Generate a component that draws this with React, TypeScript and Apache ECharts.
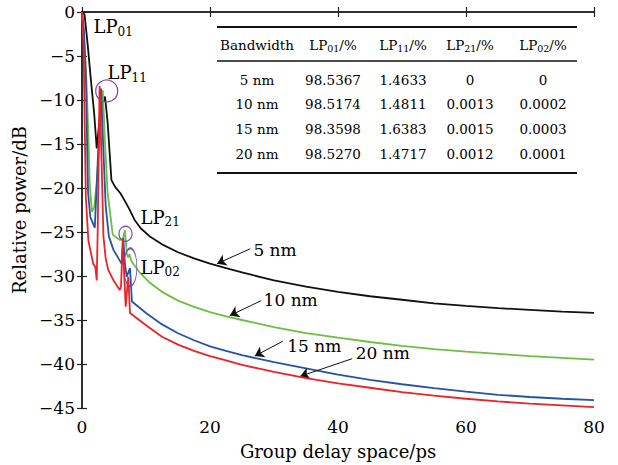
import React, { useEffect, useRef } from 'react';
import * as echarts from 'echarts';

// ---- Data ----
const delay5 = [0, 0.4, 0.9, 1.4, 1.9, 2.3, 2.7, 3.2, 3.4, 3.6, 4.0, 4.6, 5.2, 6.0, 6.8, 7.4, 8.2, 9.2, 10.6, 12.5, 15, 17.5, 20, 22.5, 25, 30, 35, 40, 45, 50, 55, 60, 65, 70, 75, 80];
const power5 = [0, -0.3, -3.8, -7.8, -11.5, -15.5, -12.5, -9.8, -10.2, -9.6, -12.5, -19.1, -19.9, -20.6, -21.6, -22.4, -23.6, -24.6, -25.5, -26.4, -27.3, -28.0, -28.6, -29.1, -29.6, -30.5, -31.2, -31.8, -32.3, -32.7, -33.1, -33.4, -33.65, -33.85, -34.05, -34.2];

const delay10 = [0, 0.3, 0.7, 1.0, 1.2, 1.55, 1.9, 2.3, 2.8, 3.25, 3.6, 4.0, 4.8, 5.9, 6.4, 6.7, 7.0, 7.2, 7.4, 7.7, 9, 10.5, 12.5, 15, 17.5, 20, 22.5, 25, 30, 35, 40, 45, 50, 55, 60, 65, 70, 75, 80];
const power10 = [0, -3, -8, -14, -19.5, -22.7, -22.2, -19.5, -14, -8.9, -15, -20.5, -25.3, -25.9, -25.8, -24.8, -27.5, -27.9, -27.5, -28.3, -29.6, -30.7, -31.8, -32.8, -33.5, -34.1, -34.6, -35.0, -35.8, -36.5, -37.0, -37.5, -37.95, -38.3, -38.6, -38.85, -39.1, -39.3, -39.5];

const delay15 = [0, 0.3, 0.6, 0.8, 0.95, 1.3, 2.0, 2.4, 2.97, 3.3, 3.7, 4.2, 4.9, 5.7, 6.2, 6.45, 6.7, 6.98, 7.5, 7.8, 10, 12.5, 15, 17.5, 20, 22.5, 25, 27.5, 30, 35, 40, 45, 50, 55, 60, 65, 70, 75, 80];
const power15 = [0, -2, -7, -15, -20.5, -23.3, -24.5, -18, -8.7, -15, -22, -25.5, -27.0, -28.0, -28.6, -25.7, -28.5, -30.1, -29.1, -32.9, -34.2, -35.5, -36.5, -37.3, -38.0, -38.5, -39.0, -39.4, -39.8, -40.5, -41.2, -41.8, -42.3, -42.75, -43.15, -43.5, -43.75, -43.95, -44.1];

const delay20 = [0, 0.25, 0.45, 0.6, 1.0, 1.75, 2.1, 2.3, 2.45, 2.75, 3.1, 3.35, 3.7, 4.1, 5.0, 5.9, 6.1, 6.36, 6.6, 6.83, 7.05, 7.23, 7.5, 10, 12.5, 15, 17.5, 20, 22.5, 25, 27.5, 30, 35, 40, 45, 50, 55, 60, 65, 70, 75, 80];
const power20 = [0, -4, -14, -21, -26.0, -28.6, -29.0, -30.5, -25, -8.4, -18, -25.5, -28, -29.3, -30.6, -31.6, -31.2, -25.9, -30, -33.5, -31.5, -30.1, -34.2, -35.6, -36.9, -37.8, -38.5, -39.1, -39.6, -40.1, -40.5, -40.9, -41.6, -42.2, -42.7, -43.2, -43.6, -43.95, -44.25, -44.5, -44.7, -44.9];

const xTicks = { min: 0, max: 80, interval: 20 };
const yTicks = { min: -45, max: 0, interval: 5 };

// mode markers (circles) and their labels, in data coordinates
const modeNames = ['01', '11', '21', '02'];
const modeCircleAt = [[0.7, 0.1], [3.86, -8.98], [6.8, -25.2], [7.55, -29.0]];
const modeCircleSize = [[11, 11], [22, 22], [13, 15], [13, 38]];
const modeLabelAt = [[1.72, -1.7], [3.9, -6.9], [9.06, -23.3], [9.06, -29.0]];

// bandwidth arrows
const bandLabels = ['5 nm', '10 nm', '15 nm', '20 nm'];
const arrowTail = [[26.3, -26.9], [28.0, -32.8], [31.4, -37.4], [42.2, -39.4]];
const arrowTip = [[21.1, -28.6], [23.1, -34.5], [27.0, -39.1], [34.1, -41.4]];
const bandLabelAt = [[26.7, -27.0], [28.3, -32.7], [32.0, -38.0], [42.7, -38.8]];

// table
const tableBandwidth = ['5 nm', '10 nm', '15 nm', '20 nm'];
const tableLP01 = ['98.5367', '98.5174', '98.3598', '98.5270'];
const tableLP11 = ['1.4633', '1.4811', '1.6383', '1.4717'];
const tableLP21 = ['0', '0.0013', '0.0015', '0.0012'];
const tableLP02 = ['0', '0.0002', '0.0003', '0.0001'];

const FONT = 'DejaVu Serif';
const PURPLE = '#7a4fae';

const zip = (xs: number[], ys: number[]) => xs.map((x, i) => [x, ys[i]]);

export default function App() {
  const ref = useRef<HTMLDivElement>(null);

  useEffect(() => {
    if (!ref.current) return;
    const chart = echarts.init(ref.current, undefined, { renderer: 'svg' });

    const richLP = (size: number, sub: number) => ({
      m: { fontFamily: FONT, fontSize: size, lineHeight: size + 4, color: '#000' },
      s: { fontFamily: FONT, fontSize: sub, lineHeight: sub + 1, color: '#000', verticalAlign: 'bottom' as const },
    });

    const markPointData: any[] = [];
    modeNames.forEach((n, i) => {
      markPointData.push({
        coord: modeCircleAt[i],
        symbol: 'circle',
        symbolSize: modeCircleSize[i],
        itemStyle: { color: 'rgba(0,0,0,0)', borderColor: PURPLE, borderWidth: 1.3 },
        label: { show: false },
      });
      markPointData.push({
        coord: modeLabelAt[i],
        symbol: 'circle',
        symbolSize: 1,
        itemStyle: { color: 'rgba(0,0,0,0)' },
        label: {
          show: true,
          position: 'right',
          distance: 0,
          formatter: () => `{m|LP}{s|${n}}`,
          rich: richLP(18, 12),
        },
      });
    });
    bandLabels.forEach((t, i) => {
      markPointData.push({
        coord: bandLabelAt[i],
        symbol: 'circle',
        symbolSize: 1,
        itemStyle: { color: 'rgba(0,0,0,0)' },
        label: {
          show: true,
          position: 'right',
          distance: 0,
          formatter: () => t,
          fontFamily: FONT,
          fontSize: 17,
          color: '#000',
        },
      });
    });

    const markLineData = bandLabels.map((_, i) => [
      { coord: arrowTail[i] },
      { coord: arrowTip[i] },
    ]);

    // table graphic
    const colX = [257, 333, 403, 470, 543];
    const headerY = 45;
    const rowY = [80, 104, 129, 154];
    const tFont = 13.5;
    const tRich = richLP(tFont, 9.5);
    const txt = (x: number, y: number, text: string) => ({
      type: 'text',
      x,
      y,
      style: {
        text,
        fontFamily: FONT,
        fontSize: tFont,
        fill: '#000',
        align: 'center',
        verticalAlign: 'middle',
        rich: tRich,
      },
    });
    const headers = [
      '{m|Bandwidth}',
      '{m|LP}{s|01}{m|/%}',
      '{m|LP}{s|11}{m|/%}',
      '{m|LP}{s|21}{m|/%}',
      '{m|LP}{s|02}{m|/%}',
    ];
    const graphics: any[] = [];
    graphics.push({ type: 'line', shape: { x1: 217, y1: 27, x2: 577, y2: 27 }, style: { stroke: '#111', lineWidth: 2 } });
    graphics.push({ type: 'line', shape: { x1: 217, y1: 61, x2: 577, y2: 61 }, style: { stroke: '#111', lineWidth: 1.3 } });
    graphics.push({ type: 'line', shape: { x1: 217, y1: 173, x2: 577, y2: 173 }, style: { stroke: '#111', lineWidth: 2 } });
    headers.forEach((h, i) => graphics.push(txt(colX[i], headerY, h)));
    const cols = [tableBandwidth, tableLP01, tableLP11, tableLP21, tableLP02];
    cols.forEach((col, c) =>
      col.forEach((v, r) => graphics.push(txt(colX[c], rowY[r], `{m|${v}}`)))
    );

    const axisCommon = {
      axisLine: { show: true, lineStyle: { color: '#222', width: 1.5 } },
      axisTick: { show: true, inside: true, length: 5, lineStyle: { color: '#222', width: 1.2 } },
      splitLine: { show: false },
    };

    chart.setOption({
      animation: false,
      backgroundColor: '#fff',
      textStyle: { fontFamily: FONT },
      grid: { left: 82, top: 12, right: 24, bottom: 55, containLabel: false },
      xAxis: [
        {
          type: 'value',
          ...xTicks,
          ...axisCommon,
          position: 'bottom',
          axisLabel: { fontFamily: FONT, fontSize: 17, color: '#000', margin: 10 },
          name: 'Group delay space/ps',
          nameLocation: 'middle',
          nameGap: 34,
          nameTextStyle: { fontFamily: FONT, fontSize: 18, color: '#000' },
        },
        {
          type: 'value',
          ...xTicks,
          ...axisCommon,
          position: 'top',
          axisLabel: { show: false },
        },
      ],
      yAxis: [
        {
          type: 'value',
          ...yTicks,
          ...axisCommon,
          position: 'left',
          axisLabel: {
            fontFamily: FONT,
            fontSize: 17,
            color: '#000',
            margin: 7,
            formatter: (v: number) => (v < 0 ? '\u2212' + Math.abs(v) : String(v)),
          },
          name: 'Relative power/dB',
          nameLocation: 'middle',
          nameGap: 50,
          nameTextStyle: { fontFamily: FONT, fontSize: 18, color: '#000' },
        },
        {
          type: 'value',
          ...yTicks,
          ...axisCommon,
          position: 'right',
          axisLabel: { show: false },
        },
      ],
      graphic: graphics,
      series: [
        {
          name: '5 nm',
          type: 'line',
          data: zip(delay5, power5),
          showSymbol: false,
          color: '#111',
          lineStyle: { color: '#111', width: 1.8 },
          z: 2,
          markPoint: { silent: true, data: markPointData, animation: false },
          markLine: {
            silent: true,
            symbol: ['none', 'arrow'],
            symbolSize: 9,
            lineStyle: { color: '#111', width: 1, type: 'solid' },
            label: { show: false },
            data: markLineData,
            animation: false,
          },
        },
        {
          name: '10 nm',
          type: 'line',
          data: zip(delay10, power10),
          showSymbol: false,
          color: '#6cbf3f',
          lineStyle: { color: '#6cbf3f', width: 1.8 },
          z: 3,
        },
        {
          name: '15 nm',
          type: 'line',
          data: zip(delay15, power15),
          showSymbol: false,
          color: '#2354a8',
          lineStyle: { color: '#2354a8', width: 1.8 },
          z: 4,
        },
        {
          name: '20 nm',
          type: 'line',
          data: zip(delay20, power20),
          showSymbol: false,
          color: '#ec2226',
          lineStyle: { color: '#ec2226', width: 1.8 },
          z: 5,
        },
      ],
    });

    return () => chart.dispose();
  }, []);

  return (
    <div
      ref={ref}
      style={{ position: 'fixed', left: 0, top: 0, width: 618, height: 465, background: '#fff' }}
    />
  );
}
